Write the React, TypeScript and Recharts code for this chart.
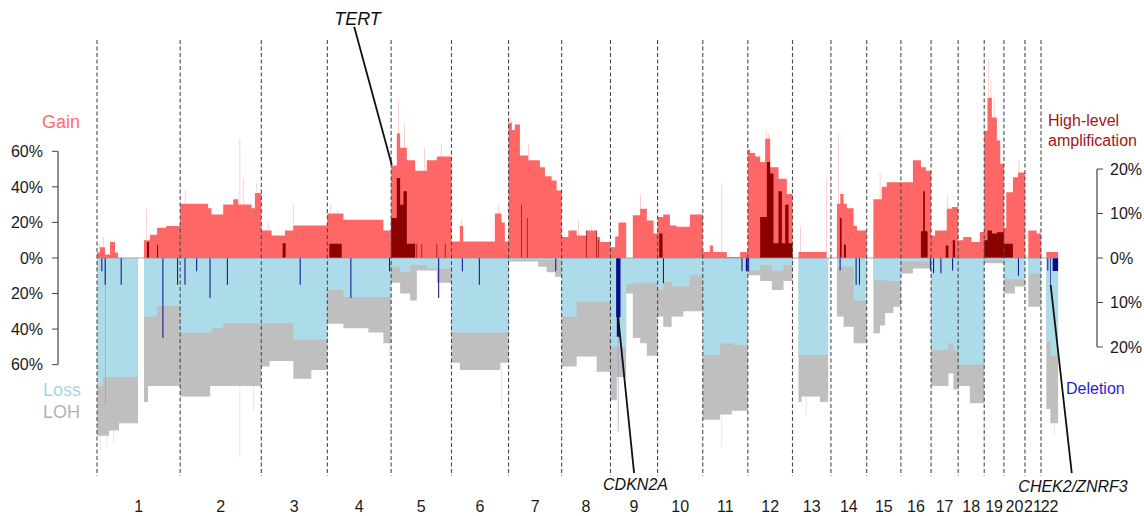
import { ComposedChart, Area, XAxis, YAxis, ReferenceLine } from "recharts";

type Seg = [number, number, number]; // chromosome, start (Mb in chromosome), %
type Span = [number, number, number, number]; // chromosome, start Mb, end Mb, %

const chromNames = ["1", "2", "3", "4", "5", "6", "7", "8", "9", "10", "11", "12", "13", "14", "15", "16", "17", "18", "19", "20", "21", "22"];
const chromLengths = [249.3, 243.2, 198.0, 191.2, 180.9, 171.1, 159.1, 146.4, 141.2, 135.5, 135.0, 133.9, 115.2, 107.3, 102.5, 90.4, 81.2, 78.1, 59.1, 63.0, 48.1, 51.3];

// gain frequency (left axis)
const gainSegments: Seg[] = [
  [1, 0, 3], [1, 9, 6], [1, 24, 2], [1, 39, 9], [1, 54, 3], [1, 63, 0], [1, 141, 10], [1, 159, 13], [1, 180, 17], [1, 207, 18],
  [2, 0, 30.5], [2, 84, 28], [2, 94, 24.5], [2, 129, 30], [2, 159, 33], [2, 174, 30], [2, 214, 28], [2, 224, 36.5],
  [3, 0, 15.5], [3, 31, 12.7], [3, 71, 15.5], [3, 96, 18.3],
  [4, 0, 25], [4, 48, 21.5], [4, 168, 15.5],
  [5, 0, 52], [5, 17, 70], [5, 27, 62], [5, 47, 55], [5, 72, 49], [5, 107, 55], [5, 137, 57],
  [6, 0, 9.3], [6, 25, 18], [6, 35, 9.3], [6, 130, 25], [6, 150, 20], [6, 160, 9.3],
  [7, 0, 76], [7, 10, 72], [7, 19, 75], [7, 34, 57.6], [7, 59, 55], [7, 94, 51], [7, 109, 46], [7, 129, 43.6], [7, 144, 38],
  [8, 0, 11.8], [8, 20, 15.5], [8, 45, 12.7], [8, 75, 15.5], [8, 105, 11.8], [8, 115, 9],
  [9, 0, 6], [9, 14, 12], [9, 24, 20], [9, 47, 0], [9, 67, 24], [9, 89, 27.7], [9, 109, 21], [9, 129, 13.7],
  [10, 0, 23], [10, 17, 24.5], [10, 37, 18.3], [10, 57, 17.5], [10, 97, 24.5],
  [11, 0, 3.4], [11, 21, 7], [11, 31, 3.4], [11, 72, 0.5], [11, 112, 3.4],
  [12, 0, 61], [12, 7, 59], [12, 22, 57], [12, 37, 54], [12, 52, 67], [12, 67, 51], [12, 92, 44.6], [12, 117, 36],
  [13, 0, 0], [13, 18, 3.4], [13, 102, 0],
  [14, 0, 0], [14, 18, 30.5], [14, 28, 36], [14, 38, 30.5], [14, 48, 28], [14, 68, 18], [14, 78, 15.5],
  [15, 0, 0], [15, 20, 33], [15, 45, 40], [15, 60, 42.6],
  [16, 0, 42.6], [16, 36, 55], [16, 60, 51], [16, 75, 49],
  [17, 0, 12.7], [17, 12, 15.5], [17, 47, 27.7], [17, 62, 28.6],
  [18, 0, 10], [18, 15, 11.8], [18, 40, 9], [18, 65, 14.6],
  [19, 0, 71.6], [19, 10, 90], [19, 23, 79], [19, 38, 66], [19, 48, 53],
  [20, 0, 17], [20, 7, 37], [20, 27, 45.4], [20, 42, 48],
  [21, 0, 0], [21, 10, 15.5], [21, 35, 13.7],
  [22, 0, 0], [22, 16, 3.4],
];

const gainSpikes: Span[] = [
  [1, 7, 9, 8], [1, 19, 21, 12], [1, 148, 150, 28],
  [2, 14, 16, 38], [2, 178, 180, 67], [2, 188, 190, 45], [2, 229, 231, 42],
  [3, 19, 21, 20], [3, 95, 97, 30],
  [4, 9, 11, 30], [4, 29, 31, 27],
  [5, 21, 23, 88], [5, 39, 41, 75], [5, 99, 101, 62], [5, 149, 151, 64],
  [6, 29, 31, 22], [6, 139, 141, 30],
  [7, 4, 6, 80], [7, 59, 61, 64],
  [8, 49, 51, 22], [8, 89, 91, 18],
  [9, 89, 91, 36],
  [11, 56, 58, 42],
  [12, 54, 56, 72], [12, 61, 63, 70],
  [13, 23, 25, 18], [13, 101, 103, 45],
  [14, 21, 23, 70],
  [15, 39, 41, 48],
  [17, 49, 51, 35],
  [19, 11, 13, 112], [19, 19, 21, 100], [19, 29, 31, 90],
  [20, 44, 46, 55],
  [21, 44, 46, 16],
];

// high-level amplification (right axis)
const ampSpans: Span[] = [
  [1, 150, 156, 3.6], [1, 180, 183, 3],
  [3, 64, 73, 3.3],
  [4, 6, 43, 3.2],
  [5, 0, 17, 9], [5, 17, 27, 18], [5, 27, 37, 12], [5, 37, 47, 15], [5, 47, 72, 3.2], [5, 76, 78, 3.2], [5, 91, 93, 3.2], [5, 136, 138, 3.2], [5, 161, 163, 3.2],
  [7, 38, 40, 12], [7, 55, 57, 9],
  [8, 74, 76, 6.2], [8, 104, 106, 6.2], [8, 109, 111, 4],
  [10, 5, 15, 5.5],
  [12, 37, 57, 9.2], [12, 57, 67, 21.6], [12, 67, 77, 19], [12, 77, 92, 3.3], [12, 92, 102, 15], [12, 102, 112, 3.3], [12, 112, 122, 12], [12, 122, 133.9, 3.3],
  [14, 27, 32, 9], [14, 39, 45, 3],
  [16, 60, 67, 6], [16, 67, 72, 15], [16, 72, 80, 6],
  [17, 44, 52, 2.8], [17, 65, 72, 4],
  [19, 0, 10, 4], [19, 10, 23, 6.2], [19, 23, 38, 5.5], [19, 38, 59.1, 5.8],
  [20, 0, 27, 3.2],
];

// loss frequency (left axis, drawn downwards)
const lossSegments: Seg[] = [
  [1, 0, 72], [1, 18, 67], [1, 123, 0], [1, 141, 33], [1, 180, 27],
  [2, 0, 42], [2, 94, 39.5], [2, 129, 36.7],
  [3, 0, 36.7], [3, 96, 46],
  [4, 0, 18], [4, 48, 22],
  [5, 0, 5], [5, 27, 8], [5, 57, 4], [5, 107, 6],
  [6, 0, 42],
  [7, 0, 1],
  [8, 0, 33], [8, 45, 24.7],
  [9, 0, 50], [9, 47, 15], [9, 67, 14],
  [10, 0, 18], [10, 17, 13.5], [10, 42, 16], [10, 97, 9.7],
  [11, 0, 54.6], [11, 52, 48], [11, 92, 49],
  [12, 0, 7], [12, 37, 4], [12, 72, 7], [12, 107, 4],
  [13, 0, 0], [13, 18, 54.6], [13, 107, 0],
  [14, 0, 0], [14, 18, 5], [14, 68, 24],
  [15, 0, 0], [15, 20, 12.5], [15, 60, 13],
  [16, 0, 2],
  [17, 0, 51.8], [17, 52, 48], [17, 67, 52],
  [18, 0, 60],
  [19, 0, 1],
  [20, 0, 12],
  [21, 0, 0], [21, 10, 8.8],
  [22, 0, 0], [22, 16, 47], [22, 28, 55],
];

// LOH frequency (left axis, drawn downwards)
const lohSegments: Seg[] = [
  [1, 0, 100], [1, 36, 97], [1, 66, 93], [1, 123, 0], [1, 141, 81], [1, 153, 72],
  [2, 0, 78], [2, 90, 72],
  [3, 0, 61], [3, 25, 58], [3, 96, 68], [3, 150, 63],
  [4, 0, 37], [4, 48, 39.5], [4, 123, 42], [4, 168, 48],
  [5, 0, 14], [5, 27, 20], [5, 57, 24], [5, 77, 7], [5, 137, 14],
  [6, 0, 59], [6, 25, 63], [6, 146, 59],
  [7, 0, 2], [7, 89, 5], [7, 114, 8], [7, 139, 10.6],
  [8, 0, 61], [8, 45, 55.5], [8, 105, 64],
  [9, 0, 80], [9, 19, 67], [9, 47, 20], [9, 67, 45], [9, 89, 48], [9, 109, 55],
  [10, 0, 33], [10, 17, 38.7], [10, 42, 33], [10, 77, 30],
  [11, 0, 91], [11, 52, 88], [11, 87, 86],
  [12, 0, 9.7], [12, 37, 13], [12, 72, 18], [12, 107, 13],
  [13, 0, 0], [13, 18, 81], [13, 27, 78], [13, 82, 81], [13, 107, 0],
  [14, 0, 0], [14, 18, 33], [14, 38, 38.7], [14, 68, 48],
  [15, 0, 0], [15, 20, 42.4], [15, 40, 38], [15, 55, 31], [15, 80, 27.5],
  [16, 0, 8.8], [16, 36, 6],
  [17, 0, 72], [17, 52, 65], [17, 67, 74],
  [18, 0, 72], [18, 35, 81.7],
  [19, 0, 3],
  [20, 0, 20], [20, 33, 16],
  [21, 0, 0], [21, 10, 27.5],
  [22, 0, 0], [22, 16, 85], [22, 28, 93],
];

const lohSpikes: Span[] = [
  [1, 9, 11, 108], [1, 29, 31, 106], [1, 49, 51, 104],
  [2, 178, 180, 112], [2, 219, 221, 86],
  [4, 186, 188, 56],
  [6, 149, 151, 84],
  [11, 56, 58, 106],
  [13, 40, 42, 88],
  [22, 40, 42, 100],
];

// deletion frequency (right axis, drawn downwards)
const deletionSpans: Span[] = [
  [1, 13, 16, 3], [1, 23, 26, 6], [1, 71, 74, 6], [1, 196, 199, 18], [1, 240, 243, 6],
  [2, 13, 16, 6], [2, 48, 51, 3], [2, 88, 91, 9], [2, 140, 143, 6],
  [3, 115, 118, 6],
  [4, 69, 72, 9], [4, 185, 188, 3],
  [5, 141, 144, 9],
  [6, 31, 34, 3], [6, 82, 85, 6],
  [7, 140, 143, 3],
  [9, 17, 30, 13.3], [9, 19, 26, 17.7],
  [10, 16, 19, 5.7],
  [11, 116, 119, 3], [11, 129, 135, 3],
  [12, 1, 4, 3],
  [14, 26, 29, 2.8], [14, 74, 77, 6], [14, 84, 87, 6],
  [16, 87, 90, 2.8],
  [17, 6, 9, 3.4], [17, 28, 31, 3.4], [17, 63, 66, 2.8],
  [20, 42, 45, 4],
  [22, 19, 22, 2.8], [22, 28, 30, 6], [22, 35, 51.3, 2.9],
];

const deletionFaint: Span[] = [
  [1, 25, 27, 33],
  [9, 22, 24, 39],
];

const leftTicks = [-60, -40, -20, 0, 20, 40, 60];
const rightTicks = [-20, -10, 0, 10, 20];

const chromStarts: number[] = [];
chromLengths.reduce((acc, len) => {
  chromStarts.push(acc);
  return acc + len;
}, 0);
const genomeEnd = chromStarts[21] + chromLengths[21];
const chromCenters = chromStarts.map((s, i) => s + chromLengths[i] / 2);

const EPS = 1e-3;

function chromOf(x: number) {
  for (let i = 0; i < chromStarts.length; i++) {
    if (x >= chromStarts[i] - EPS && x < chromStarts[i] + chromLengths[i] - EPS) return i;
  }
  return -1;
}

function segValue(segs: Seg[], x: number) {
  const c = chromOf(x);
  if (c < 0) return 0;
  const rel = x - chromStarts[c];
  let v = 0;
  for (const [ch, s, val] of segs) if (ch === c + 1 && s <= rel + EPS) v = val;
  return v;
}

function spanValue(spans: Span[], x: number) {
  let v = 0;
  for (const [ch, s, e, val] of spans) {
    const gs = chromStarts[ch - 1] + s;
    const ge = chromStarts[ch - 1] + e;
    if (x >= gs - EPS && x < ge - EPS) v = Math.max(v, val);
  }
  return v;
}

const breakSet = new Set<number>();
const addBreak = (x: number) => breakSet.add(Math.round(x * 1000) / 1000);
chromStarts.forEach(addBreak);
addBreak(genomeEnd);
[gainSegments, lossSegments, lohSegments].forEach((segs) =>
  segs.forEach(([ch, s]) => addBreak(chromStarts[ch - 1] + s))
);
[gainSpikes, ampSpans, deletionSpans, deletionFaint, lohSpikes].forEach((spans) =>
  spans.forEach(([ch, s, e]) => {
    addBreak(chromStarts[ch - 1] + s);
    addBreak(chromStarts[ch - 1] + e);
  })
);
const xs = [...breakSet].sort((a, b) => a - b);

const chartData = xs.map((x) => ({
  x,
  gain: segValue(gainSegments, x),
  gainSpike: spanValue(gainSpikes, x),
  amp: spanValue(ampSpans, x),
  loss: -segValue(lossSegments, x),
  loh: -segValue(lohSegments, x),
  lohSpike: -spanValue(lohSpikes, x),
  del: -spanValue(deletionSpans, x),
  delFaint: -spanValue(deletionFaint, x),
}));

// annotation pointer lines, in genome Mb / left-axis %
const tertLine = [{ x: 771, y: 130 }, { x: chromStarts[4] + 2, y: 52.3 }];
const cdkn2aLine = [{ x: chromStarts[8] + 23, y: -33.3 }, { x: 1610, y: -121 }];
const chek2Line = [{ x: chromStarts[21] + 29, y: -15.2 }, { x: 2922, y: -121 }];

const X_MIN = -116.9;
const X_MAX = 2997.6;

const FONT = '"Liberation Sans", Arial, Helvetica, sans-serif';

function Label({ x, y, size, color, children, center, italic }: any) {
  return (
    <div
      style={{
        position: "absolute",
        left: x,
        top: y - size / 2,
        fontSize: size,
        lineHeight: 1,
        color,
        whiteSpace: "nowrap",
        fontStyle: italic ? "italic" : "normal",
        transform: center ? "translateX(-50%)" : undefined,
      }}
    >
      {children}
    </div>
  );
}

export default function App() {
  const areaProps = {
    type: "stepAfter" as const,
    stroke: "none",
    fillOpacity: 1,
    isAnimationActive: false,
    dot: false,
    activeDot: false,
    baseValue: 0,
  };

  return (
    <div style={{ position: "relative", width: 1144, height: 516, fontFamily: FONT, background: "#fff" }}>
      <style>{"body{margin:0}"}</style>
      <ComposedChart width={1144} height={516} data={chartData} margin={{ top: 0, right: 0, bottom: 0, left: 0 }}>
        <XAxis
          dataKey="x"
          type="number"
          domain={[X_MIN, X_MAX]}
          allowDataOverflow
          ticks={chromCenters}
          interval={0}
          tickFormatter={(v: number) => {
            let best = 0;
            chromCenters.forEach((c, i) => {
              if (Math.abs(c - v) < Math.abs(chromCenters[best] - v)) best = i;
            });
            return chromNames[best];
          }}
          axisLine={false}
          tickLine={false}
          tickSize={0}
          tickMargin={21}
          height={36}
          tick={{ fontSize: 16, fill: "#1a1a1a" }}
        />
        <YAxis
          yAxisId="left"
          type="number"
          domain={[-124.9, 145.1]}
          allowDataOverflow
          ticks={leftTicks}
          interval={0}
          tickFormatter={(v: number) => `${Math.abs(v)}%`}
          axisLine={false}
          stroke="#444"
          tickSize={6}
          tickMargin={9}
          width={58}
          tick={{ fontSize: 16, fill: "#1a1a1a" }}
        />
        <YAxis
          yAxisId="right"
          orientation="right"
          type="number"
          domain={[-49.9, 58]}
          allowDataOverflow
          ticks={rightTicks}
          interval={0}
          tickFormatter={(v: number) => `${Math.abs(v)}%`}
          axisLine={false}
          stroke="#444"
          tickSize={6}
          tickMargin={7}
          width={47}
          tick={{ fontSize: 16, fill: "#1a1a1a", textAnchor: "start" }}
        />

        <Area {...areaProps} yAxisId="left" dataKey="lohSpike" fill="#dcdcdc" />
        <Area {...areaProps} yAxisId="left" dataKey="loh" fill="#bfbfbf" />
        <Area {...areaProps} yAxisId="left" dataKey="loss" fill="#acdbe9" />
        <Area {...areaProps} yAxisId="right" dataKey="delFaint" fill="#9898d4" />
        <Area {...areaProps} yAxisId="right" dataKey="del" fill="#0b0b8c" />
        <Area {...areaProps} yAxisId="left" dataKey="gainSpike" fill="#ffbaba" />
        <Area {...areaProps} yAxisId="left" dataKey="gain" fill="#ff6666" />
        <Area {...areaProps} yAxisId="right" dataKey="amp" fill="#8b0000" />

        <ReferenceLine
          yAxisId="left"
          segment={[{ x: 0, y: 0 }, { x: genomeEnd, y: 0 }]}
          stroke="#a08c9c"
          strokeWidth={0.8}
          ifOverflow="visible"
        />

        {chromStarts.map((s) => (
          <ReferenceLine
            key={s}
            yAxisId="left"
            segment={[{ x: s, y: 122.6 }, { x: s, y: -122.6 }]}
            stroke="#4a4a4a"
            strokeWidth={1.1}
            strokeDasharray="4 2.5"
            ifOverflow="visible"
          />
        ))}

        <ReferenceLine
          yAxisId="left"
          segment={[{ x: X_MIN, y: 60 }, { x: X_MIN, y: -60 }]}
          stroke="#444"
          strokeWidth={1.2}
          ifOverflow="visible"
        />
        <ReferenceLine
          yAxisId="right"
          segment={[{ x: X_MAX, y: 20 }, { x: X_MAX, y: -20 }]}
          stroke="#444"
          strokeWidth={1.2}
          ifOverflow="visible"
        />

        <ReferenceLine yAxisId="left" segment={tertLine} stroke="#111" strokeWidth={1.8} ifOverflow="visible" />
        <ReferenceLine yAxisId="left" segment={cdkn2aLine} stroke="#111" strokeWidth={1.8} ifOverflow="visible" />
        <ReferenceLine yAxisId="left" segment={chek2Line} stroke="#111" strokeWidth={1.8} ifOverflow="visible" />
      </ComposedChart>

      <Label x={42} y={122} size={18} color="#ff6b6b">Gain</Label>
      <Label x={43} y={390} size={18} color="#a6d5e5">Loss</Label>
      <Label x={43} y={412} size={18} color="#b3b3b3">LOH</Label>
      <Label x={1048} y={121} size={16} color="#a31515">High-level</Label>
      <Label x={1048} y={141} size={16} color="#a31515">amplification</Label>
      <Label x={1066} y={389} size={16} color="#1e1ed8">Deletion</Label>
      <Label x={357.5} y={19} size={18} color="#111" center italic>TERT</Label>
      <Label x={635.5} y={485} size={16} color="#111" center italic>CDKN2A</Label>
      <Label x={1073} y={487} size={16} color="#111" center italic>CHEK2/ZNRF3</Label>
    </div>
  );
}
